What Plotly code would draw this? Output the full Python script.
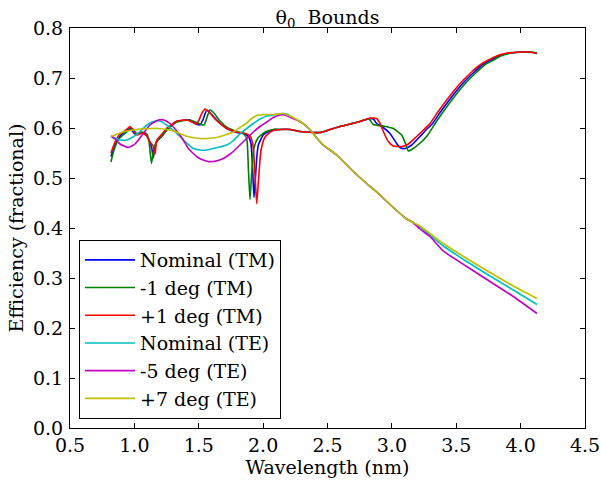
import plotly.graph_objects as go

# ---------------- data (wavelength in nm, efficiency fractional) ----------------
# shared TM segment (all three TM curves coincide here)
tm_mid_wl = [2.131, 2.209, 2.286, 2.39, 2.442, 2.52, 2.597, 2.675, 2.752]
tm_mid_eff = [0.597, 0.597, 0.593, 0.591, 0.591, 0.597, 0.603, 0.608, 0.613]

# Nominal (TM)
tm_nom_wl_a = [0.818, 0.85, 0.888, 0.94, 0.966, 1.005, 1.044, 1.083, 1.11, 1.135, 1.147, 1.158,
               1.175, 1.212, 1.251, 1.329, 1.406, 1.432, 1.471, 1.51, 1.535, 1.562, 1.59, 1.639,
               1.717, 1.795, 1.846, 1.885, 1.905, 1.918, 1.929, 1.94, 1.952, 1.963, 2.001, 2.053]
tm_nom_eff_a = [0.543, 0.566, 0.583, 0.596, 0.600, 0.588, 0.590, 0.588, 0.578, 0.560, 0.540, 0.560,
                0.574, 0.583, 0.596, 0.613, 0.616, 0.616, 0.609, 0.606, 0.618, 0.636, 0.630, 0.616,
                0.599, 0.591, 0.589, 0.583, 0.570, 0.520, 0.461, 0.500, 0.545, 0.566, 0.586, 0.594]
tm_nom_wl_b = [2.83, 2.856, 2.882, 2.933, 2.985, 3.037, 3.063, 3.102, 3.154, 3.218, 3.265, 3.316,
               3.38, 3.446, 3.51, 3.575, 3.64, 3.70, 3.77, 3.828, 3.895, 3.953, 4.01, 4.06, 4.1, 4.127]
tm_nom_eff_b = [0.619, 0.618, 0.609, 0.601, 0.589, 0.569, 0.561, 0.559, 0.566, 0.583, 0.596, 0.609,
                0.633, 0.656, 0.677, 0.696, 0.712, 0.726, 0.736, 0.744, 0.749, 0.751, 0.752, 0.752, 0.751, 0.749]

# -1 deg (TM)
tm_m1_wl_a = [0.818, 0.842, 0.873, 0.912, 0.958, 0.989, 1.02, 1.059, 1.098, 1.114, 1.133, 1.149,
              1.176, 1.214, 1.253, 1.331, 1.409, 1.455, 1.51, 1.541, 1.565, 1.587, 1.618, 1.665,
              1.727, 1.805, 1.852, 1.874, 1.886, 1.898, 1.91, 1.929, 1.96, 2.015, 2.092]
tm_m1_eff_a = [0.532, 0.556, 0.576, 0.586, 0.596, 0.598, 0.588, 0.592, 0.588, 0.572, 0.529, 0.556,
               0.574, 0.584, 0.596, 0.612, 0.616, 0.614, 0.608, 0.606, 0.622, 0.636, 0.630, 0.614,
               0.600, 0.592, 0.588, 0.576, 0.516, 0.457, 0.506, 0.560, 0.580, 0.592, 0.598]
tm_m1_wl_b = [2.81, 2.83, 2.856, 2.933, 3.011, 3.076, 3.11, 3.128, 3.166, 3.22, 3.27, 3.336, 3.40,
              3.466, 3.53, 3.595, 3.66, 3.72, 3.79, 3.845, 3.91, 3.965, 4.02, 4.07, 4.127]
tm_m1_eff_b = [0.618, 0.616, 0.607, 0.604, 0.599, 0.586, 0.566, 0.554, 0.559, 0.570, 0.583, 0.609, 0.633,
               0.656, 0.677, 0.696, 0.712, 0.726, 0.736, 0.744, 0.749, 0.751, 0.752, 0.752, 0.750]

# +1 deg (TM)
tm_p1_wl_a = [0.818, 0.85, 0.888, 0.935, 0.966, 0.99, 1.02, 1.059, 1.098, 1.121, 1.145, 1.16,
              1.175, 1.214, 1.253, 1.331, 1.409, 1.447, 1.479, 1.502, 1.525, 1.549, 1.587, 1.634,
              1.712, 1.789, 1.852, 1.898, 1.921, 1.937, 1.95, 1.964, 1.984, 2.015, 2.069]
tm_p1_eff_a = [0.550, 0.572, 0.588, 0.596, 0.603, 0.596, 0.586, 0.590, 0.584, 0.572, 0.565, 0.548,
               0.576, 0.588, 0.600, 0.614, 0.616, 0.612, 0.608, 0.616, 0.630, 0.638, 0.630, 0.616,
               0.600, 0.592, 0.590, 0.584, 0.566, 0.506, 0.449, 0.496, 0.556, 0.582, 0.594]
tm_p1_wl_b = [2.83, 2.882, 2.908, 2.946, 2.972, 3.011, 3.076, 3.128, 3.193, 3.245, 3.296, 3.36,
              3.426, 3.49, 3.555, 3.62, 3.684, 3.75, 3.814, 3.88, 3.943, 4.0, 4.047, 4.09, 4.127]
tm_p1_eff_b = [0.620, 0.619, 0.609, 0.586, 0.573, 0.564, 0.563, 0.568, 0.583, 0.596, 0.609, 0.633,
               0.656, 0.677, 0.696, 0.712, 0.726, 0.736, 0.744, 0.749, 0.751, 0.752, 0.752, 0.751, 0.749]

# shared TE segment
te_mid_wl = [2.286, 2.325, 2.377, 2.41, 2.467, 2.571, 2.688, 2.804, 2.908, 3.011, 3.115, 3.164]
te_mid_eff = [0.613, 0.606, 0.593, 0.582, 0.566, 0.546, 0.516, 0.489, 0.466, 0.441, 0.418, 0.411]

# Nominal (TE)
te_nom_wl_a = [0.818, 0.85, 0.888, 0.94, 0.989, 1.044, 1.098, 1.147, 1.199, 1.251, 1.30, 1.354,
               1.406, 1.458, 1.51, 1.562, 1.611, 1.665, 1.717, 1.766, 1.82, 1.872, 1.924, 1.976,
               2.028, 2.079, 2.144, 2.185, 2.234]
te_nom_eff_a = [0.583, 0.580, 0.576, 0.576, 0.582, 0.593, 0.606, 0.613, 0.614, 0.606, 0.596, 0.583,
                0.570, 0.559, 0.556, 0.556, 0.559, 0.562, 0.566, 0.574, 0.588, 0.599, 0.609, 0.618,
                0.624, 0.626, 0.629, 0.628, 0.620]
te_nom_wl_b = [3.218, 3.4, 3.581, 3.762, 3.943, 4.127]
te_nom_eff_b = [0.402, 0.364, 0.333, 0.304, 0.276, 0.247]

# -5 deg (TE)
te_m5_wl_a = [0.818, 0.85, 0.888, 0.953, 1.005, 1.069, 1.121, 1.186, 1.23, 1.277, 1.323, 1.38,
              1.417, 1.458, 1.494, 1.535, 1.572, 1.613, 1.65, 1.691, 1.727, 1.768, 1.82, 1.872,
              1.924, 1.976, 2.028, 2.079, 2.131, 2.17, 2.232]
te_m5_eff_a = [0.584, 0.578, 0.568, 0.561, 0.568, 0.589, 0.606, 0.616, 0.616, 0.609, 0.596, 0.576,
               0.560, 0.549, 0.541, 0.536, 0.533, 0.533, 0.535, 0.539, 0.545, 0.553, 0.566, 0.579,
               0.592, 0.603, 0.612, 0.621, 0.626, 0.626, 0.619]
te_m5_wl_b = [3.218, 3.296, 3.4, 3.581, 3.762, 3.943, 4.127]
te_m5_eff_b = [0.398, 0.383, 0.354, 0.323, 0.293, 0.263, 0.229]

# +7 deg (TE)
te_p7_wl_a = [0.818, 0.888, 0.94, 0.992, 1.044, 1.121, 1.183, 1.251, 1.316, 1.38, 1.432, 1.51,
              1.562, 1.639, 1.691, 1.768, 1.82, 1.872, 1.906, 1.95, 2.015, 2.079, 2.157, 2.209]
te_p7_eff_a = [0.583, 0.590, 0.594, 0.596, 0.598, 0.599, 0.599, 0.597, 0.593, 0.586, 0.582, 0.579,
               0.579, 0.581, 0.585, 0.592, 0.601, 0.610, 0.618, 0.625, 0.627, 0.627, 0.629, 0.624]
te_p7_wl_b = [3.218, 3.4, 3.581, 3.762, 3.943, 4.127]
te_p7_eff_b = [0.404, 0.369, 0.339, 0.311, 0.284, 0.259]

x_ticks = [0.5, 1.0, 1.5, 2.0, 2.5, 3.0, 3.5, 4.0, 4.5]
y_ticks = [0.0, 0.1, 0.2, 0.3, 0.4, 0.5, 0.6, 0.7, 0.8]

series = [
    ("Nominal (TM)", tm_nom_wl_a + tm_mid_wl + tm_nom_wl_b, tm_nom_eff_a + tm_mid_eff + tm_nom_eff_b, "#0000ff"),
    ("-1 deg (TM)", tm_m1_wl_a + tm_mid_wl + tm_m1_wl_b, tm_m1_eff_a + tm_mid_eff + tm_m1_eff_b, "#008000"),
    ("+1 deg (TM)", tm_p1_wl_a + tm_mid_wl + tm_p1_wl_b, tm_p1_eff_a + tm_mid_eff + tm_p1_eff_b, "#ff0000"),
    ("Nominal (TE)", te_nom_wl_a + te_mid_wl + te_nom_wl_b, te_nom_eff_a + te_mid_eff + te_nom_eff_b, "#00bfbf"),
    ("-5 deg (TE)", te_m5_wl_a + te_mid_wl + te_m5_wl_b, te_m5_eff_a + te_mid_eff + te_m5_eff_b, "#bf00bf"),
    ("+7 deg (TE)", te_p7_wl_a + te_mid_wl + te_p7_wl_b, te_p7_eff_a + te_mid_eff + te_p7_eff_b, "#bfbf00"),
]

FONT = "DejaVu Serif"
FS = 19

fig = go.Figure()
for name, xs, ys, col in series:
    fig.add_trace(go.Scatter(x=xs, y=ys, mode="lines", name=name,
                             line=dict(color=col, width=1.6, shape="spline", smoothing=0.5)))

axis_common = dict(showgrid=False, zeroline=False, showline=True, linecolor="black", linewidth=1,
                   mirror="ticks", ticks="inside", ticklen=5, tickwidth=1, tickcolor="black",
                   automargin=False,
                   tickfont=dict(family=FONT, size=FS, color="black"))

fig.update_xaxes(range=[0.5, 4.5], tickvals=x_ticks, ticktext=[f"{v:.1f}" for v in x_ticks],
                 title=dict(text="Wavelength (nm)", font=dict(family=FONT, size=FS, color="black"), standoff=2),
                 ticklabelstandoff=0, **axis_common)
fig.update_yaxes(range=[0.0, 0.8], tickvals=y_ticks, ticktext=[f"{v:.1f}" for v in y_ticks],
                 title=dict(text="Efficiency (fractional)", font=dict(family=FONT, size=FS, color="black"), standoff=4),
                 ticklabelstandoff=2, **axis_common)

fig.update_layout(
    width=601, height=484,
    margin=dict(l=70, r=16, t=28, b=56),
    paper_bgcolor="white", plot_bgcolor="white",
    font=dict(family=FONT, size=FS, color="black"),
    title=dict(text="θ<sub>0</sub>\u00a0 Bounds", x=0.5, xref="paper", xanchor="center",
               y=1, yref="paper", yanchor="bottom", pad=dict(b=4),
               font=dict(family=FONT, size=FS, color="black")),
    showlegend=True,
    legend=dict(x=0.0175, y=0.0225, xanchor="left", yanchor="bottom",
                bgcolor="white", bordercolor="black", borderwidth=1,
                font=dict(family=FONT, size=FS, color="black"),
                tracegroupgap=0, itemwidth=50),
)

# remove the browser's default 8px page margin so the figure sits at the window's corner
fig.write_html("out.html", config={"displayModeBar": False},
               post_script="document.body.style.margin='0';")
